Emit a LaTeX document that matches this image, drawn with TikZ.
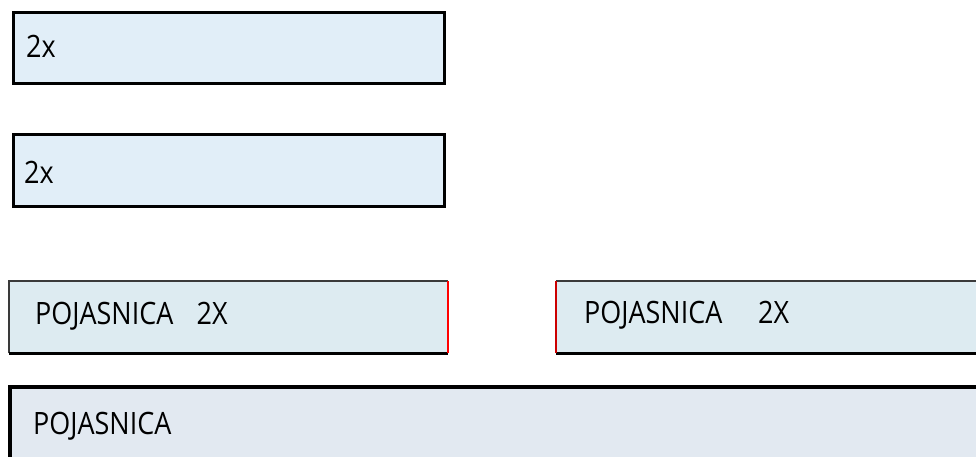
\documentclass[tikz,border=0pt]{standalone}
\usepackage{fontspec}
\setmainfont{Open Sans}
\definecolor{fillA}{HTML}{E1EEF8}
\definecolor{fillB}{HTML}{DDEBF1}
\definecolor{fillC}{HTML}{E2E9F1}
\definecolor{edgeG}{HTML}{3A3A3A}
\tikzset{
  x=1pt,y=1pt,
  boxA/.style={draw=black,line width=3pt,fill=fillA,rectangle,anchor=north west,inner sep=0pt},
  boxB/.style={fill=fillB,rectangle,anchor=north west,inner sep=0pt},
  boxC/.style={fill=fillC,rectangle,anchor=north west,inner sep=0pt},
  lbl/.style={anchor=west,inner sep=0pt,font=\fontsize{27.5}{30}\selectfont},
}
\newcommand{\tallt}[1]{\scalebox{0.98}[1.12]{#1}}
\begin{document}
\begin{tikzpicture}
\useasboundingbox (0,0) rectangle (976,456);
% top boxes
\node[boxA,minimum width=431,minimum height=71] (b1) at (12,445) {};
\node[lbl] (t1) at (26,410) {\tallt{2x}};
\node[boxA,minimum width=431,minimum height=72] (b2) at (12,323) {};
\node[lbl] (t2) at (24,284) {\tallt{2x}};
% middle left
\node[boxB,minimum width=439,minimum height=72] (b3) at (9,175) {};
\draw[edgeG,line width=1.2pt] (b3.south west) -- (b3.north west) -- (b3.north east);
\draw[black,line width=3.5pt] (b3.south west) -- (b3.south east);
\draw[red,line width=2pt] (b3.north east) -- (b3.south east);
\node[lbl] (t3) at (35,140) {\tallt{POJASNICA}\hspace{0.85em}\tallt{2X}};
% middle right
\node[boxB,minimum width=425,minimum height=72] (b4) at (556,175) {};
\draw[edgeG,line width=1.2pt] (b4.north east) -- (b4.north west);
\draw[black,line width=3.5pt] (b4.south west) -- (b4.south east);
\draw[red!80!black,line width=2pt] (b4.north west) -- (b4.south west);
\node[lbl] (t4) at (584,141) {\tallt{POJASNICA}\hspace{1.3em}\tallt{2X}};
% bottom
\node[boxC,minimum width=975,minimum height=75] (b5) at (10,69) {};
\draw[black,line width=3.5pt] (b5.south west) -- (b5.north west) -- (b5.north east);
\node[lbl] (t5) at (33,30) {\tallt{POJASNICA}};
\end{tikzpicture}
\end{document}
